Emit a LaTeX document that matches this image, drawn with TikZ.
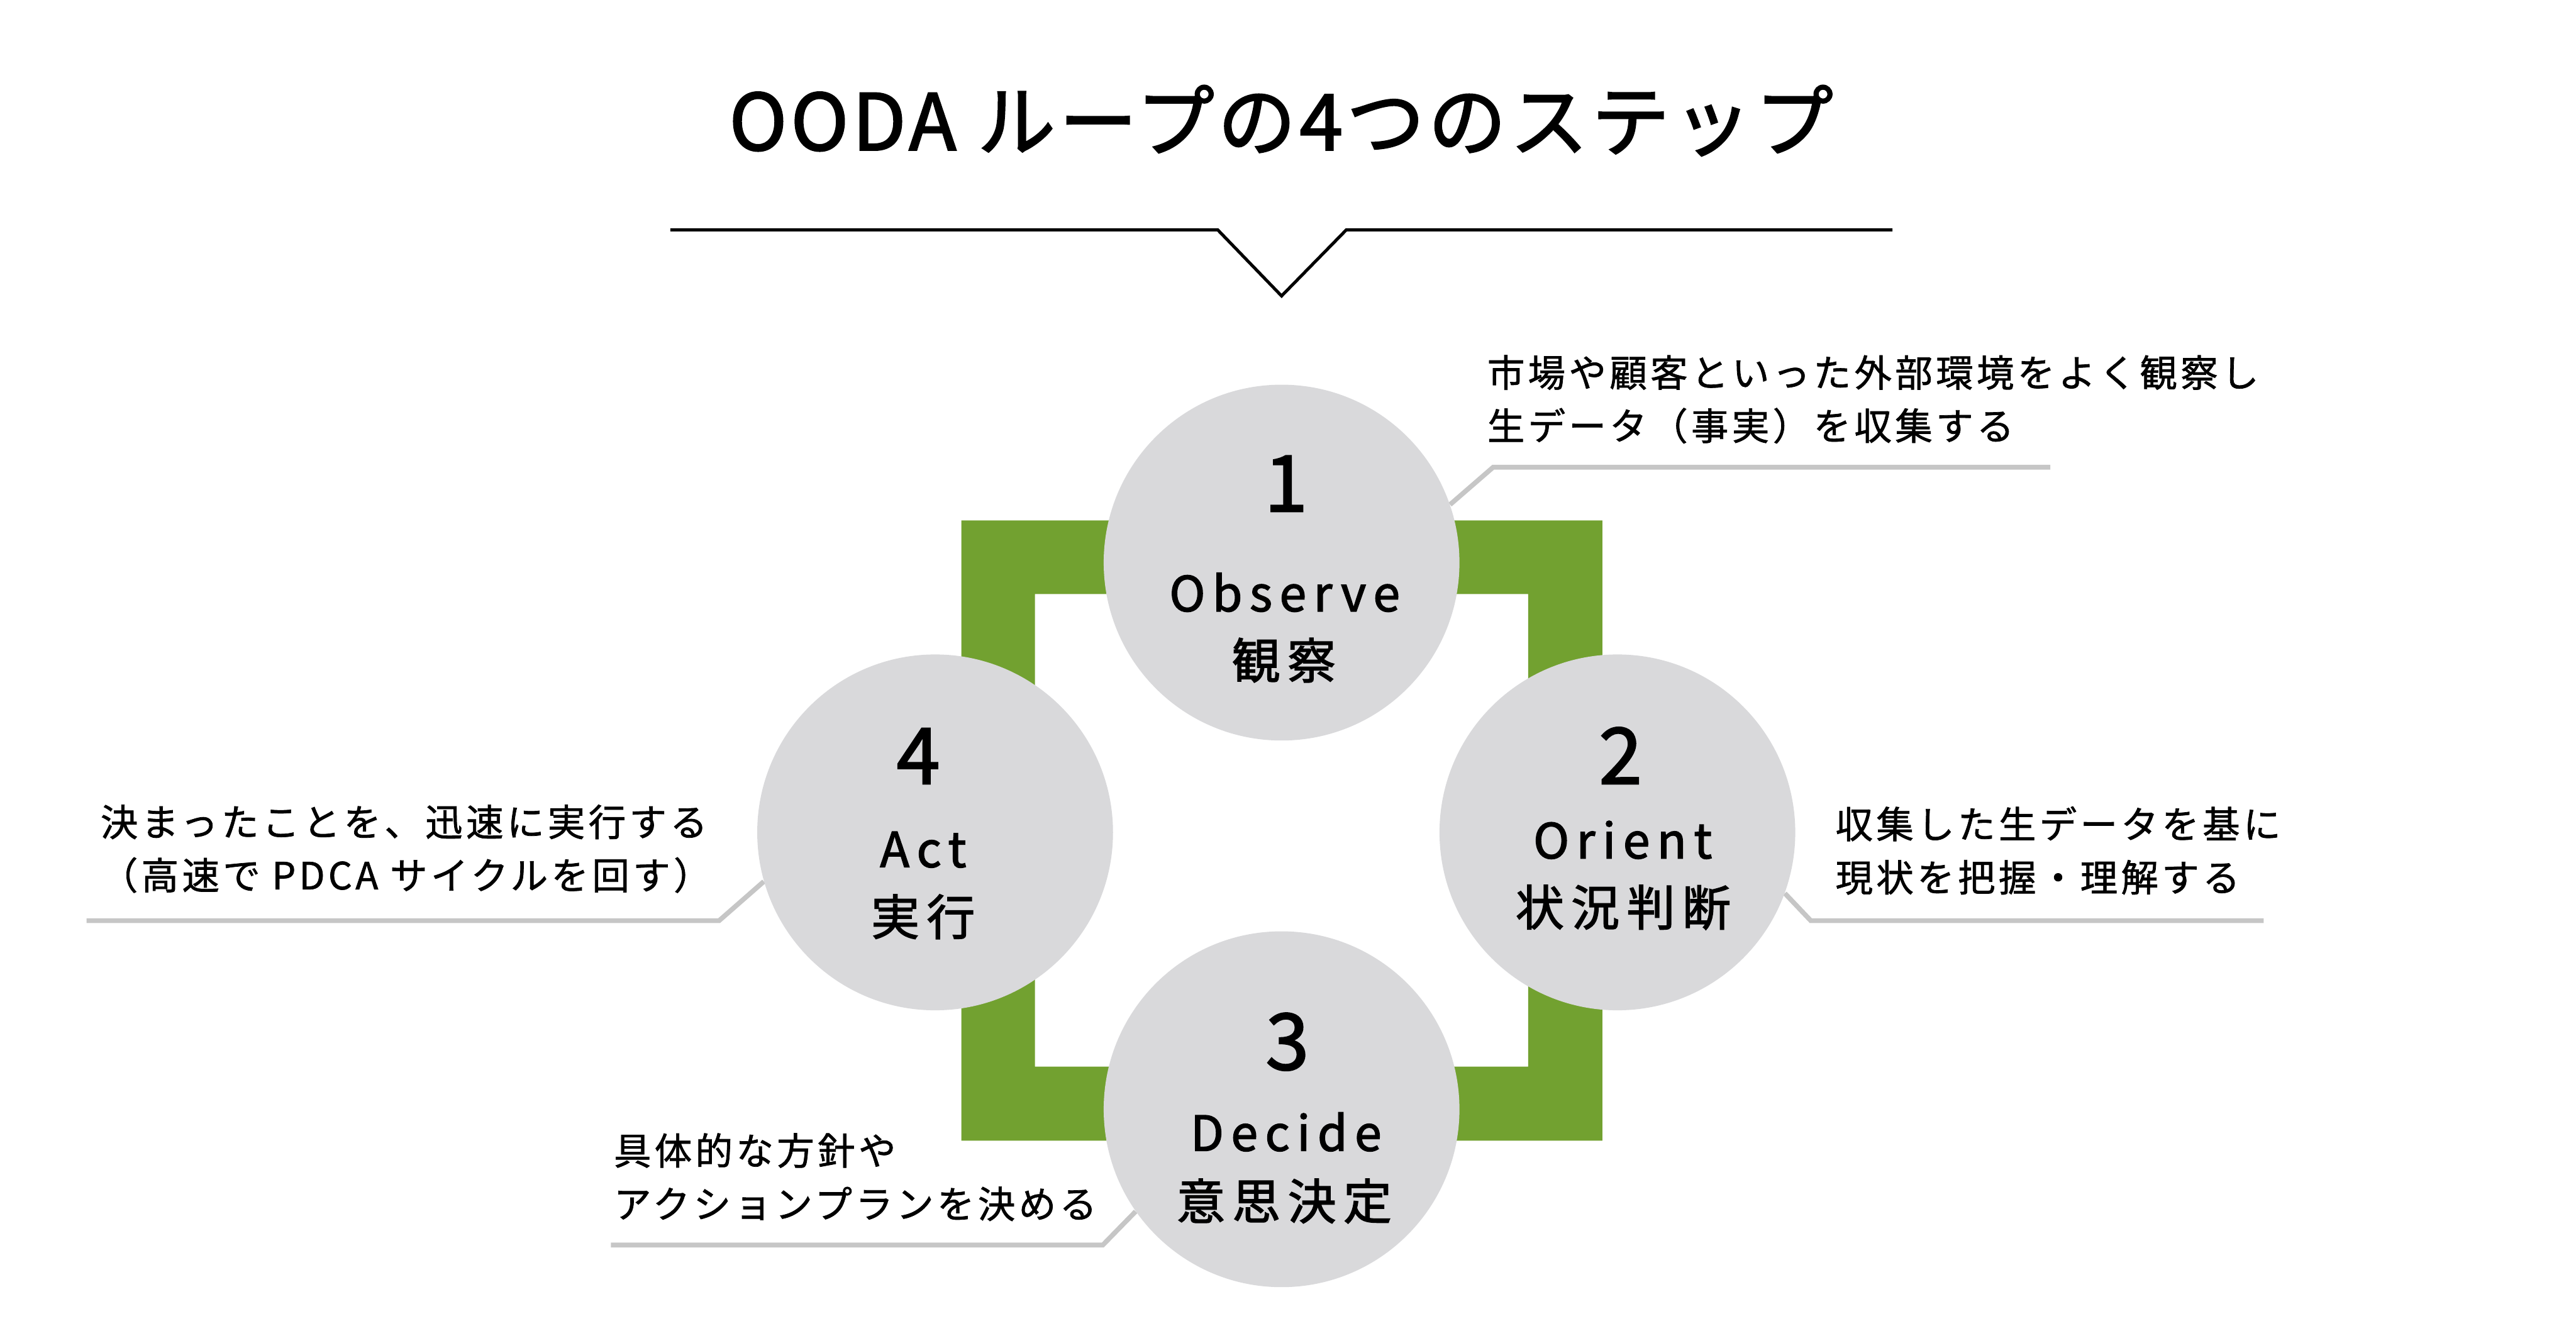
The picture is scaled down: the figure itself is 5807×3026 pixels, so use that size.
\documentclass[tikz,border=0pt]{standalone}
\usepackage{fontspec}
\setmainfont{Noto Sans CJK JP}
\usetikzlibrary{positioning,calc}
\pgfdeclarelayer{background}
\pgfsetlayers{background,main}

\definecolor{loopgreen}{RGB}{114,161,48}
\definecolor{stepgray}{RGB}{217,217,219}
\definecolor{notegray}{RGB}{198,198,198}

\newcommand{\titlefont}{\fontsize{50}{50}\selectfont\addfontfeatures{LetterSpace=4.8,FakeBold=2}}
\newcommand{\numfont}{\fontsize{50}{50}\selectfont\addfontfeatures{FakeBold=2}}
\newcommand{\labelfont}{\fontsize{31}{31}\selectfont\addfontfeatures{LetterSpace=15,FakeBold=2}}
\newcommand{\notefont}{\fontsize{24}{34.14}\selectfont\addfontfeatures{LetterSpace=9,FakeBold=1.2}}

\begin{document}
\begin{tikzpicture}[x=0.1mm, y=-0.1mm,
    stepcircle/.style={circle, fill=stepgray, minimum size=80.2mm, inner sep=0pt},
    stepnum/.style={inner sep=0pt, font=\numfont},
    steplabel/.style={inner sep=0pt, font=\labelfont},
    note/.style={inner sep=0pt, anchor=west, align=left, font=\notefont},
    noteline/.style={draw=notegray, line width=3.1pt}]
  \useasboundingbox (0,0) rectangle (5807,3026);

  % title and divider
  \node (title) at (2888,272) {\titlefont OODA ループの4つのステップ};
  \draw[line width=2pt] (1511,518) -- (2745,518) -- (2889,667) -- (3035,518) -- (4266,518);

  % green loop
  \fill[loopgreen, even odd rule] (2167,1173) rectangle (3612,2571)
    (2333,1339) rectangle (3445,2404);

  % steps
  \node[stepcircle] (observe) at (2889,1268) {};
  \node[stepcircle] (orient) at (3646,1876) {};
  \node[stepcircle] (decide) at (2889,2500) {};
  \node[stepcircle] (act) at (2108,1876) {};

  \node[stepnum] (observe num) at ($(observe)+(10,-178)$) {1};
  \node[steplabel] (observe en) at ($(observe)+(7,67)$) {Observe};
  \node[steplabel] (observe jp) at ($(observe)+(5,220)$) {観察};

  \node[stepnum] (orient num) at ($(orient)+(7,-173)$) {2};
  \node[steplabel] (orient en) at ($(orient)+(12,17)$) {Orient};
  \node[steplabel] (orient jp) at ($(orient)+(13,169)$) {状況判断};

  \node[stepnum] (decide num) at ($(decide)+(13,-152)$) {3};
  \node[steplabel] (decide en) at ($(decide)+(10,51)$) {Decide};
  \node[steplabel] (decide jp) at ($(decide)+(6,207)$) {意思決定};

  \node[stepnum] (act num) at ($(act)+(-38,-172)$) {4};
  \node[steplabel] (act en) at ($(act)+(-27,39)$) {Act};
  \node[steplabel] (act jp) at ($(act)+(-27,190)$) {実行};

  % notes
  \node[note] (observe note) at (3352,900) {市場や顧客といった外部環境をよく観察し\\生データ（事実）を収集する};
  \node[note] (orient note) at (4137,1917) {収集した生データを基に\\現状を把握・理解する};
  \node[note] (decide note) at (1383,2653) {具体的な方針や\\アクションプランを決める};
  \node[note] (act note) at (226,1913) {決まったことを、迅速に実行する\\（高速で PDCA サイクルを回す）};

  \coordinate (observe bend) at (3366,1053);
  \coordinate (observe end) at (4622,1053);
  \coordinate (orient bend) at (4082,2075);
  \coordinate (orient end) at (5103,2075);
  \coordinate (decide bend) at (2486,2806);
  \coordinate (decide end) at (1377,2806);
  \coordinate (act bend) at (1621,2075);
  \coordinate (act end) at (195,2075);

  \begin{pgfonlayer}{background}
    \draw[noteline] (observe.19) -- (observe bend) -- (observe end);
    \draw[noteline] (orient.-20) -- (orient bend) -- (orient end);
    \draw[noteline] (decide.215) -- (decide bend) -- (decide end);
    \draw[noteline] (act.196) -- (act bend) -- (act end);
  \end{pgfonlayer}
\end{tikzpicture}
\end{document}
